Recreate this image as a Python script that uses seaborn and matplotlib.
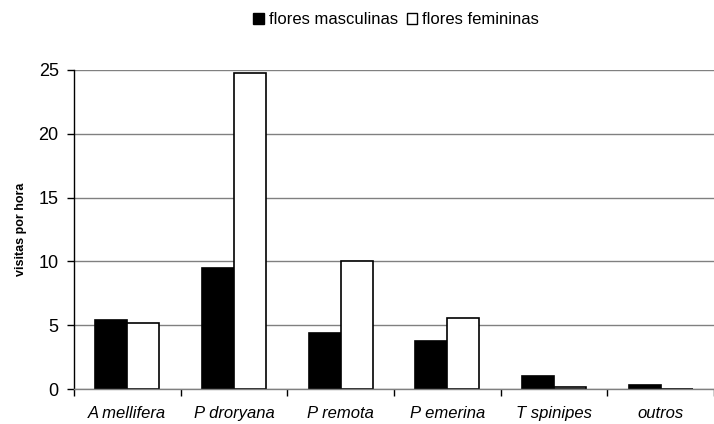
import pandas as pd
import matplotlib
matplotlib.use("Agg")
import matplotlib.pyplot as plt
import seaborn as sns
from matplotlib.patches import Patch

# Data
species = ['A mellifera', 'P droryana', 'P remota', 'P emerina', 'T spinipes', 'outros']
masculinas = [5.4, 9.5, 4.4, 3.8, 1.0, 0.3]
femininas = [5.2, 24.8, 10.0, 5.6, 0.15, 0.0]
series_names = ['flores masculinas', 'flores femininas']

df = pd.DataFrame({
    'species': species * 2,
    'visitas': masculinas + femininas,
    'flor': [series_names[0]] * len(species) + [series_names[1]] * len(species),
})

sns.set_style("white")
plt.rcParams['font.family'] = ['Liberation Sans', 'DejaVu Sans']
plt.rcParams['text.color'] = 'black'
plt.rcParams['axes.labelcolor'] = 'black'
plt.rcParams['xtick.color'] = 'black'
plt.rcParams['ytick.color'] = 'black'

fig = plt.figure(figsize=(7.14, 4.24), dpi=100)
ax = fig.add_axes([0.1036, 0.0825, 0.8964, 0.7525])

sns.barplot(data=df, x='species', y='visitas', hue='flor', palette=['black', 'white'],
            edgecolor='black', linewidth=1.2, width=0.6, legend=False, ax=ax)

ax.set_ylim(0, 25)
ax.set_xlim(-0.5, 5.45)
ax.set_yticks(range(0, 26, 5))
ax.yaxis.grid(True, color='#808080', linewidth=1)
ax.set_axisbelow(True)

for s in ['top', 'right']:
    ax.spines[s].set_visible(False)
ax.spines['left'].set_color('black')
ax.spines['bottom'].set_color('#808080')
ax.spines['left'].set_linewidth(1)
ax.spines['bottom'].set_linewidth(1)

ax.tick_params(axis='y', which='major', left=True, direction='out', length=5, width=1,
               color='black', labelsize=13, pad=6)
ax.tick_params(axis='x', which='major', bottom=True, length=0, labelsize=12, pad=12)
ax.set_xticks([i - 0.5 for i in range(7)], minor=True)
ax.tick_params(axis='x', which='minor', bottom=True, direction='out', length=5, width=1, color='black')
for lab in ax.get_xticklabels():
    lab.set_fontstyle('italic')

ax.set_xlabel('')
ax.set_ylabel('visitas por hora', fontsize=9, fontweight='bold', labelpad=8)

handles = [Patch(facecolor='black', edgecolor='black'), Patch(facecolor='white', edgecolor='black')]
fig.legend(handles, series_names, loc='center', bbox_to_anchor=(0.555, 0.953), ncol=2,
           frameon=False, fontsize=12, handlelength=0.65, handleheight=0.65,
           handletextpad=0.3, columnspacing=0.5)

plt.savefig("out.png", dpi=100)
